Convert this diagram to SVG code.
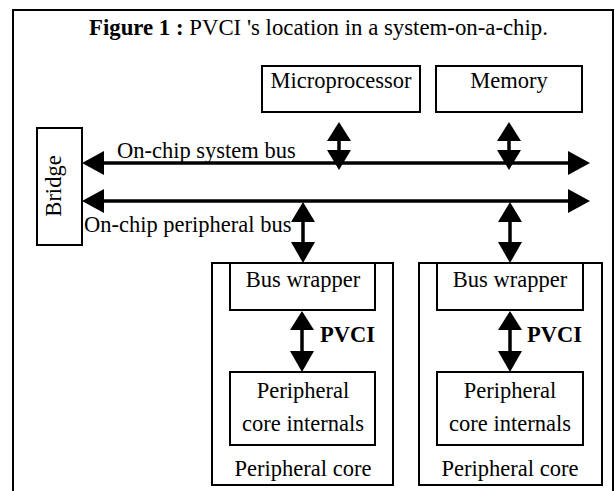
<svg xmlns="http://www.w3.org/2000/svg" width="615" height="491" viewBox="0 0 615 491">
<style>
text{font-family:"Liberation Serif","Times New Roman",serif;font-size:22.5px;fill:#000}
.b{font-weight:bold}
.t{font-size:22.8px}
.box{fill:#fff;stroke:#000;stroke-width:2}
.ln{stroke:#000;stroke-width:3.5;fill:none}
.hd{fill:#000}
</style>
<rect width="615" height="491" fill="#fff"/>
<g id="frame"><path d="M13,491 V10 H613 V491" fill="none" stroke="#000" stroke-width="2"/></g>
<g id="title"><text class="t" x="89" y="35"><tspan class="b">Figure 1 :</tspan> PVCI 's location in a system-on-a-chip.</text></g>
<g id="microprocessor"><rect class="box" x="262" y="66" width="158" height="46"/><text x="341" y="88" text-anchor="middle">Microprocessor</text></g>
<g id="memory"><rect class="box" x="436" y="66" width="146" height="46"/><text x="509" y="88" text-anchor="middle">Memory</text></g>
<g id="bridge"><rect class="box" x="37" y="128" width="45" height="117"/><text transform="translate(61,186) rotate(-90)" text-anchor="middle">Bridge</text></g>
<g id="core1"><rect class="box" x="212" y="263" width="181" height="222"/>
<rect class="box" x="230" y="263" width="145" height="47"/><text x="303" y="287" text-anchor="middle">Bus wrapper</text>
<rect class="box" x="230" y="372" width="145" height="73"/><text x="303" y="398" text-anchor="middle">Peripheral</text><text x="303" y="431" text-anchor="middle">core internals</text>
<text x="303" y="476" text-anchor="middle">Peripheral core</text></g>
<g id="core2"><rect class="box" x="419" y="263" width="183" height="222"/>
<rect class="box" x="437" y="263" width="146" height="47"/><text x="510" y="287" text-anchor="middle">Bus wrapper</text>
<rect class="box" x="437" y="372" width="146" height="73"/><text x="510" y="398" text-anchor="middle">Peripheral</text><text x="510" y="431" text-anchor="middle">core internals</text>
<text x="510" y="476" text-anchor="middle">Peripheral core</text></g>
<g id="connectors">
<line class="ln" x1="95" y1="163" x2="575" y2="163"/>
<polygon class="hd" points="82,163 104,151 104,175"/><polygon class="hd" points="590,163 568,151 568,175"/>
<line class="ln" x1="95" y1="201" x2="575" y2="201"/>
<polygon class="hd" points="82,201 104,189 104,213"/><polygon class="hd" points="590,201 568,189 568,213"/>
<line class="ln" x1="339" y1="135" x2="339" y2="158"/>
<polygon class="hd" points="339,122 327,141 351,141"/><polygon class="hd" points="339,170 327,150 351,150"/>
<line class="ln" x1="509" y1="135" x2="509" y2="158"/>
<polygon class="hd" points="509,122 497,141 521,141"/><polygon class="hd" points="509,170 497,150 521,150"/>
<line class="ln" x1="303" y1="215" x2="303" y2="250"/>
<polygon class="hd" points="303,202 291,222 315,222"/><polygon class="hd" points="303,263 291,242 315,242"/>
<line class="ln" x1="510" y1="215" x2="510" y2="250"/>
<polygon class="hd" points="510,202 498,222 522,222"/><polygon class="hd" points="510,263 498,242 522,242"/>
<line class="ln" x1="302" y1="322" x2="302" y2="360"/>
<polygon class="hd" points="302,311 290,330 314,330"/><polygon class="hd" points="302,372 290,351 314,351"/>
<line class="ln" x1="510" y1="322" x2="510" y2="360"/>
<polygon class="hd" points="510,311 498,330 522,330"/><polygon class="hd" points="510,372 498,351 522,351"/>
</g>
<g id="labels">
<text x="117" y="158">On-chip system bus</text>
<text x="84" y="232">On-chip peripheral bus</text>
<text class="b" x="320" y="342">PVCI</text>
<text class="b" x="527" y="342">PVCI</text>
</g>
</svg>
